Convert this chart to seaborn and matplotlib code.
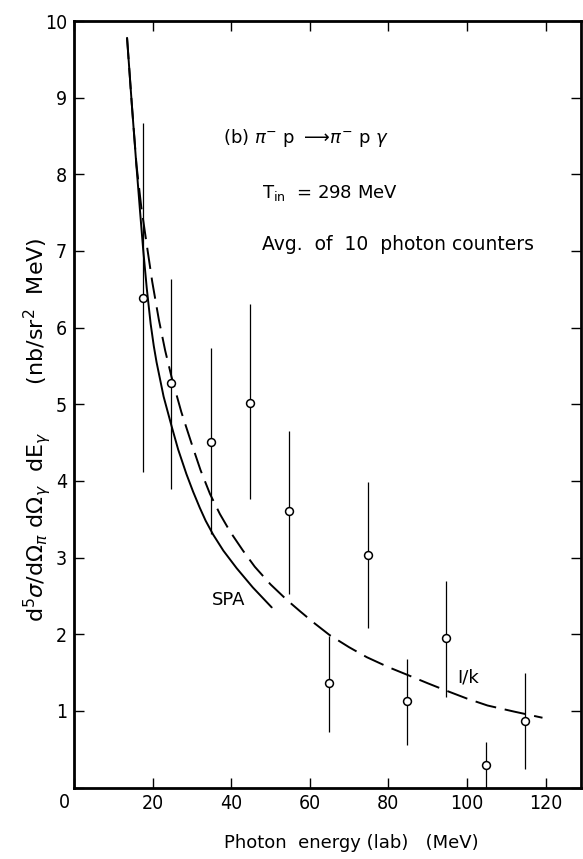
import matplotlib
matplotlib.use('Agg')
import matplotlib.pyplot as plt
import seaborn as sns

# measured points (photon energy, cross section, error bar low / high)
energy = [17.5, 24.8, 34.8, 44.8, 54.6, 64.9, 74.8, 84.7, 94.7, 104.8, 114.7]
xsec = [6.38, 5.28, 4.51, 5.02, 3.61, 1.36, 3.03, 1.13, 1.95, 0.29, 0.87]
err_lo = [4.11, 3.89, 3.31, 3.76, 2.53, 0.72, 2.08, 0.55, 1.18, 0.0, 0.24]
err_hi = [8.67, 6.64, 5.73, 6.31, 4.65, 1.98, 3.98, 1.68, 2.70, 0.59, 1.49]

# SPA curve (solid)
spa_x = [13.5, 14.7, 15.9, 16.8, 17.6, 18.5, 19.5, 20.3, 21.0, 22.8, 24.8, 26.5,
         28.6, 30.3, 32.0, 33.5, 35.4, 38.0, 41.4, 45.5, 50.3]
spa_y = [9.78, 8.92, 8.10, 7.52, 7.02, 6.52, 6.05, 5.76, 5.55, 5.10, 4.72, 4.41,
         4.09, 3.86, 3.65, 3.48, 3.30, 3.09, 2.86, 2.61, 2.35]

# 1/k curve (dashed)
k_x = [13.5, 14.7, 15.9, 17.1, 18.4, 19.9, 21.6, 23.2, 24.8, 27.3, 29.9, 32.2, 34.6,
       37.1, 39.7, 43.0, 46.0, 50.0, 54.1, 57.5, 61.0, 65.0, 70.0, 74.5, 80.0, 84.8,
       90.0, 94.9, 100.0, 105.2, 112.0, 119.2]
k_y = [9.78, 8.92, 8.12, 7.58, 7.12, 6.60, 6.10, 5.70, 5.36, 4.90, 4.49, 4.14, 3.83,
       3.57, 3.34, 3.09, 2.88, 2.65, 2.45, 2.30, 2.15, 1.99, 1.83, 1.70, 1.57, 1.47,
       1.36, 1.26, 1.16, 1.07, 0.99, 0.91]

x_ticks = [0, 20, 40, 60, 80, 100, 120]
x_labels = ['', '20', '40', '60', '80', '100', '120']
y_ticks = list(range(0, 11))
y_labels = [''] + [str(v) for v in range(1, 11)]

sns.set_style('ticks')
plt.rcParams['font.family'] = ['DejaVu Sans']
plt.rcParams['mathtext.fontset'] = 'dejavusans'
for key in ['text.color', 'axes.labelcolor', 'xtick.color', 'ytick.color', 'axes.edgecolor']:
    plt.rcParams[key] = 'black'

fig = plt.figure(figsize=(5.83, 8.59), dpi=100)
ax = fig.add_axes([74 / 583, 71.5 / 859, 507 / 583, 766.5 / 859])

sns.lineplot(x=spa_x, y=spa_y, ax=ax, color='black', lw=1.4, sort=False, estimator=None)
sns.lineplot(x=k_x, y=k_y, ax=ax, color='black', lw=1.4, sort=False, estimator=None,
             linestyle=(0, (11, 4.5)))
ax.vlines(energy, err_lo, err_hi, color='black', lw=0.9, zorder=2)
sns.scatterplot(x=energy, y=xsec, ax=ax, marker='o', s=32, facecolor='white',
                edgecolor='black', linewidth=1.1, zorder=3)

ax.set_xlim(0, 129)
ax.set_ylim(0, 10)
ax.set_xticks(x_ticks)
ax.set_xticklabels(x_labels)
ax.set_yticks(y_ticks)
ax.set_yticklabels(y_labels)
ax.tick_params(direction='in', length=7.5, width=1, top=True, right=True,
               labeltop=False, labelright=False, pad=5)
for lab in ax.get_xticklabels() + ax.get_yticklabels():
    lab.set_fontstretch('condensed')
    lab.set_fontsize(14)
for s in ax.spines.values():
    s.set_linewidth(2)
    s.set_visible(True)

ax.text(39.4, 2.44, 'SPA', fontsize=13, ha='center', va='center')
ax.text(100.4, 1.44, 'I/k', fontsize=13, ha='center', va='center')
ax.text(37.9, 8.47, r'(b) $\pi^{-}$ p $\longrightarrow\!\pi^{-}$ p $\gamma$', fontsize=13,
        ha='left', va='center')
ax.text(47.8, 7.75, r'T$_{\rm in}$  = 298 MeV', fontsize=13, ha='left', va='center')
ax.text(47.8, 7.09, 'Avg.  of  10  photon counters', fontsize=13.5, ha='left', va='center')

fig.text(64 / 583, 1 - 803 / 859, '0', fontsize=14, fontstretch='condensed',
         ha='center', va='center')
fig.text(351.5 / 583, 1 - 843 / 859, 'Photon  energy (lab)   (MeV)', fontsize=13,
         ha='center', va='center')
fig.text(37 / 583, 1 - 430 / 859,
         r'd$^5\sigma$/d$\Omega_\pi$ d$\Omega_\gamma$  dE$_\gamma$       (nb/sr$^2$  MeV)',
         fontsize=16, rotation=90, ha='center', va='center')

fig.savefig('out.png', dpi=100)
